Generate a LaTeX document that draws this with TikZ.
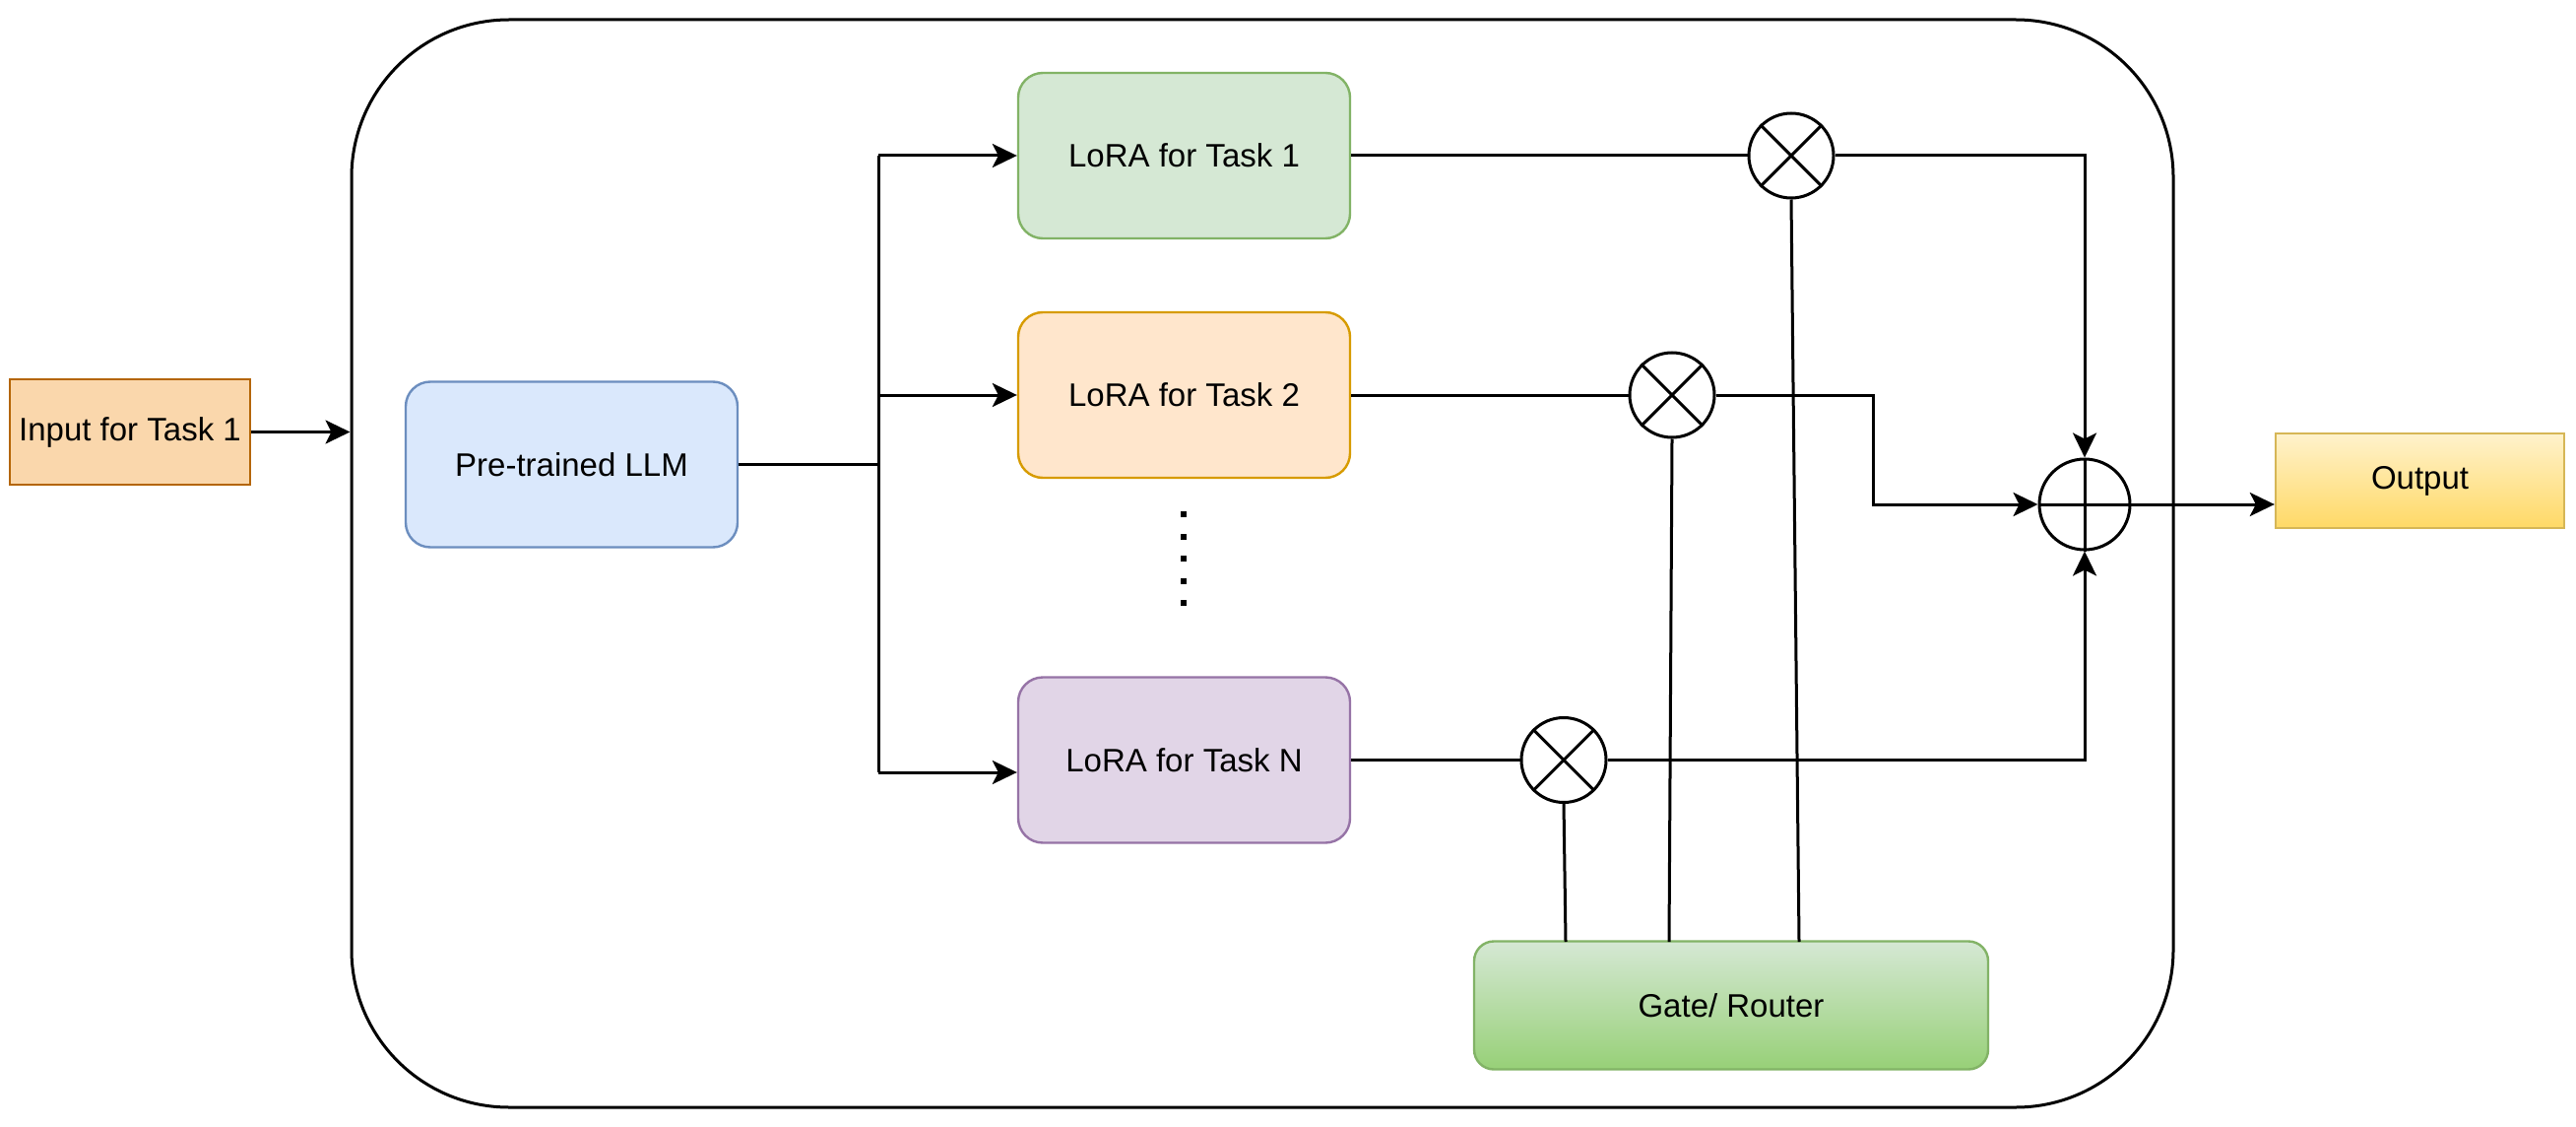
\documentclass[tikz,border=0pt]{standalone}
\usepackage{fontspec}
\setmainfont{Liberation Sans}
\usetikzlibrary{arrows.meta,calc}
\definecolor{inFill}{HTML}{FAD7AC}
\definecolor{inDraw}{HTML}{B46504}
\definecolor{blFill}{HTML}{DAE8FC}
\definecolor{blDraw}{HTML}{6C8EBF}
\definecolor{grFill}{HTML}{D5E8D4}
\definecolor{grDraw}{HTML}{82B366}
\definecolor{grBot}{HTML}{97D077}
\definecolor{orFill}{HTML}{FFE6CC}
\definecolor{orDraw}{HTML}{D79B00}
\definecolor{puFill}{HTML}{E1D5E7}
\definecolor{puDraw}{HTML}{9673A6}
\definecolor{yeTop}{HTML}{FFF2CC}
\definecolor{yeBot}{HTML}{FFD966}
\definecolor{yeDraw}{HTML}{D6B656}
\begin{document}
\begin{tikzpicture}[x=0.5pt,y=-0.5pt,
  every node/.style={font=\fontsize{16.5}{20}\selectfont, inner sep=0pt},
  box/.style={draw, line width=1.2pt, rounded corners=12.5pt, minimum width=168.5pt, minimum height=84pt},
  conn/.style={line width=1.5pt},
  arr/.style={conn, -{Stealth[length=12.5pt,width=12pt,inset=3pt]}},
  mult/.style={circle, draw, line width=1.5pt, minimum size=43pt},
]
\useasboundingbox (0,0) rectangle (2616,1144);
% outer container
\node[draw, line width=1.5pt, rounded corners=80pt, minimum width=925pt, minimum height=552pt] (outer) at (1282,572) {};
% input
\node[draw=inDraw, fill=inFill, line width=1.2pt, minimum width=122pt, minimum height=53.5pt] (in) at (132,438.5) {Input for Task 1};
\draw[arr] (in.east) -- (in.east -| outer.west);
% LLM
\node[box, draw=blDraw, fill=blFill] (llm) at (580.5,471.5) {Pre-trained LLM};
% LoRA boxes
\node[box, draw=grDraw, fill=grFill] (l1) at (1202.5,158) {LoRA for Task 1};
\node[box, draw=orDraw, fill=orFill] (l2) at (1202.5,401) {LoRA for Task 2};
\node[box, draw=puDraw, fill=puFill] (ln) at (1202.5,771.5) {LoRA for Task N};
% dots
\foreach \k in {0,...,4} \fill ($(1199,519)+(0,22.5*\k)$) rectangle ++(6,6);
% bus
\coordinate (bt) at (892,158);
\coordinate (b2) at (892,401);
\coordinate (bm) at (892,471.5);
\coordinate (bb) at (892,784);
\draw[conn] (llm.east) -- (bm);
\draw[conn] (bt) -- (bb);
\draw[arr] (bt) -- (l1.west);
\draw[arr] (b2) -- (l2.west);
\draw[arr] (bb) -- (bb -| ln.west);
% multipliers
\node[mult] (m1) at (1819,158) {};
\node[mult] (m2) at (1698,401) {};
\node[mult] (m3) at (1588,771.5) {};
\foreach \m in {m1,m2,m3} {
  \draw[conn] (\m.north west) -- (\m.south east);
  \draw[conn] (\m.north east) -- (\m.south west);
}
\draw[conn] (l1.east) -- (m1.west);
\draw[conn] (l2.east) -- (m2.west);
\draw[conn] (ln.east) -- (m3.west);
% adder
\node[mult, minimum size=46pt] (add) at (2117,512) {};
\draw[conn] (add.north) -- (add.south);
\draw[conn] (add.west) -- (add.east);
% gate
\node[draw=grDraw, line width=1.2pt, rounded corners=10pt, top color=grFill, bottom color=grBot, minimum width=261pt, minimum height=65pt] (gate) at (1758,1020.5) {Gate/ Router};
\coordinate (g3) at (1590,956);
\coordinate (g2) at (1695,956);
\coordinate (g1) at (1827,956);
\draw[conn] (g3) -- (m3.south);
\draw[conn] (g2) -- (m2.south);
\draw[conn] (g1) -- (m1.south);
% to adder
\coordinate (k2) at (1902,401);
\draw[arr] (m1.east) -| (add.north);
\draw[arr] (m2.east) -- (k2) |- (add.west);
\draw[arr] (m3.east) -| (add.south);
% output
\node[draw=yeDraw, line width=1.2pt, top color=yeTop, bottom color=yeBot, minimum width=146.5pt, minimum height=48pt] (out) at (2457.5,488) {Output};
\draw[arr] (add.east) -- (add.east -| out.west);
\end{tikzpicture}
\end{document}
